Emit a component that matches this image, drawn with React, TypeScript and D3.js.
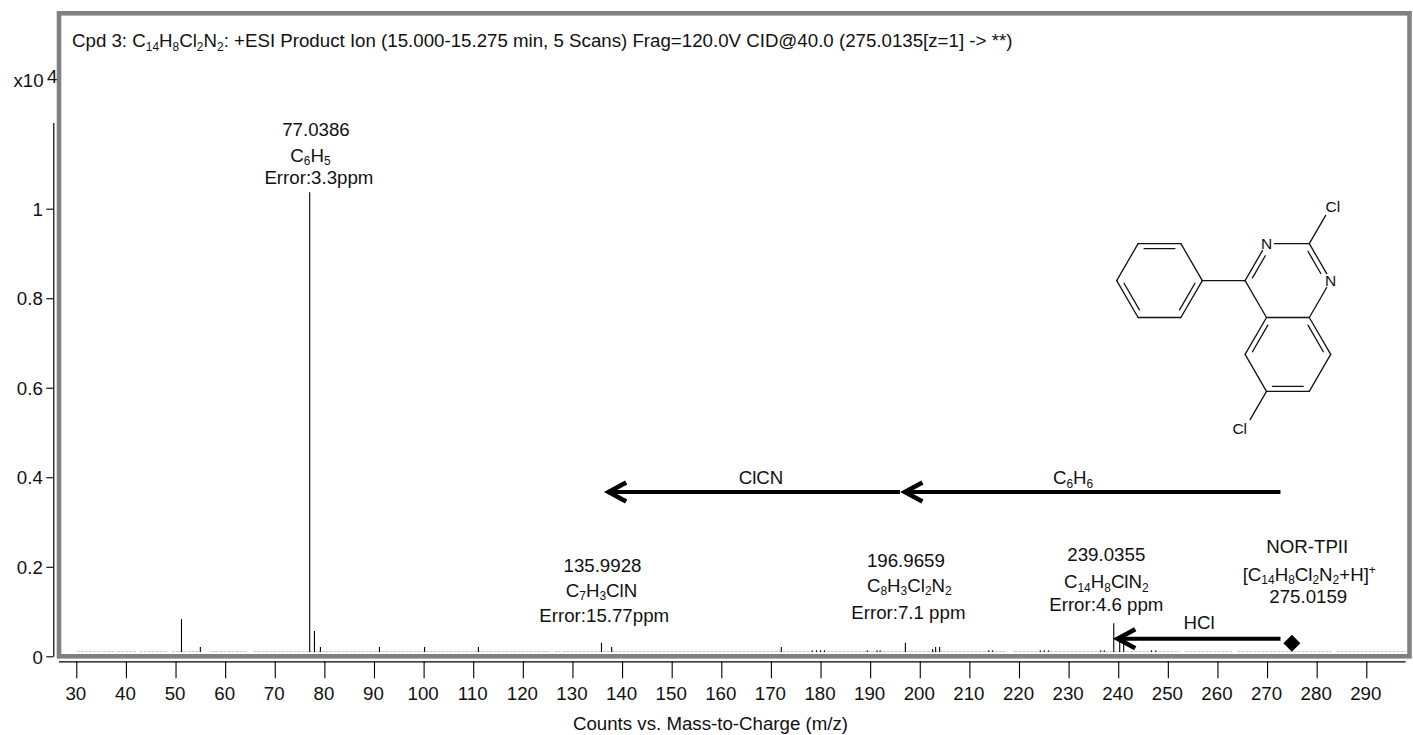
import { useEffect, useRef } from "react";
import * as d3 from "d3";

const WIDTH = 1413;
const HEIGHT = 735;
const FONT = "'Liberation Sans', Arial, sans-serif";

const xTicks = d3.range(30, 300, 10);
const yTicks = [0, 0.2, 0.4, 0.6, 0.8, 1];

// m/z and intensity (x10^4) of the sticks
const peakMz = [51.2, 55, 77.04, 78, 79.2, 91.1, 100.2, 111.05, 135.85, 137.9, 172.1, 197.1, 202.6, 203.2, 204, 239.1, 240.3, 241.1];
const peakInt = [0.083, 0.021, 1.037, 0.0565, 0.021, 0.021, 0.021, 0.021, 0.03, 0.021, 0.021, 0.03, 0.0165, 0.021, 0.021, 0.074, 0.036, 0.036];

// tiny peaks just above the noise floor
const tinyMz = [178.3, 179.2, 180, 180.8, 189.4, 191.4, 192, 213.9, 214.7, 224.3, 225.1, 226, 236.5, 237.2, 246.7, 247.6];

// noise floor stretches (m/z)
const noiseSpans = [
  [30.1, 34.8], [35.4, 37.6], [38.2, 42.2], [42.8, 48.3], [49.3, 54.9], [57.2, 64.4],
  [65.8, 125.5], [126.5, 127.5], [128.1, 217.2], [219, 252.5], [253.5, 263], [264, 283], [284, 298],
];
const NOISE_LEVEL = 0.0105;

// text notes: label, m/z anchor, intensity anchor
const noteText = [
  "77.0386", "C_{6}H_{5}", "Error:3.3ppm",
  "135.9928", "C_{7}H_{3}ClN", "Error:15.77ppm",
  "196.9659", "C_{8}H_{3}Cl_{2}N_{2}", "Error:7.1 ppm",
  "239.0355", "C_{14}H_{8}ClN_{2}", "Error:4.6 ppm",
  "NOR-TPII", "[C_{14}H_{8}Cl_{2}N_{2}+H]^{+}", "275.0159",
  "HCl", "ClCN", "C_{6}H_{6}",
];
const noteMz = [78.3, 77.2, 78.9, 136.05, 135.85, 136.4, 197.2, 197.9, 197.7, 237.6, 237.6, 237.6, 278.1, 278.5, 278.3, 256.3, 168, 230.9];
const noteInt = [1.162, 1.105, 1.056, 0.188, 0.133, 0.0766, 0.2, 0.144, 0.0833, 0.213, 0.152, 0.101, 0.231, 0.169, 0.118, 0.061, 0.385, 0.385];

// neutral loss arrows: from m/z, to m/z, intensity level
const lossArrows = [
  [272.7, 196.5, 0.367],
  [196, 136.8, 0.367],
  [272.7, 239.4, 0.039],
];
const precursor = [275, 0.029];

const title = "Cpd 3: C_{14}H_{8}Cl_{2}N_{2}: +ESI Product Ion (15.000-15.275 min, 5 Scans) Frag=120.0V CID@40.0 (275.0135[z=1] -> **)";

// structure on a hexagonal lattice: half-bond columns, rows
const atoms: Record<string, [number, number]> = {
  a1: [0, 2], a2: [1, 1], a3: [3, 1], a4: [4, 2], a5: [3, 3], a6: [1, 3],
  c4: [6, 2], n3: [7, 1], c2: [9, 1], n1: [10, 2], c8a: [9, 3], c4a: [7, 3],
  c5: [6, 4], c6: [7, 5], c7: [9, 5], c8: [10, 4], cl2: [10, 0], cl6: [6, 6],
};
const singleBonds = [
  ["a2", "a3"], ["a4", "a5"], ["a6", "a1"], ["a1", "a2"], ["a3", "a4"], ["a5", "a6"],
  ["a4", "c4"], ["c4", "c4a"], ["n3", "c2"], ["n1", "c8a"], ["c4", "n3"], ["c2", "n1"],
  ["c8a", "c4a"], ["c4a", "c5"], ["c5", "c6"], ["c6", "c7"], ["c7", "c8"], ["c8", "c8a"],
  ["c2", "cl2"], ["c6", "cl6"],
];
// second line of a double bond, and the ring centre it leans towards
const innerBonds: [string, string, [number, number]][] = [
  ["a2", "a3", [2, 2]], ["a4", "a5", [2, 2]], ["a6", "a1", [2, 2]],
  ["c4", "n3", [8, 2]], ["c2", "n1", [8, 2]],
  ["c4a", "c5", [8, 4]], ["c6", "c7", [8, 4]], ["c8", "c8a", [8, 4]],
];
// atom id, label, sideways nudge in lattice columns
const atomLabels: [string, string, number][] = [
  ["n3", "N", 0],
  ["n1", "N", 0],
  ["cl2", "Cl", 0.1],
  ["cl6", "Cl", -0.25],
];

function richText(
  sel: d3.Selection<SVGTextElement, unknown, null, undefined>,
  str: string,
  size: number
) {
  const tokens = str.match(/_\{[^}]*\}|\^\{[^}]*\}|[^_^]+/g) ?? [];
  let shift = 0;
  tokens.forEach((t) => {
    const isSub = t.startsWith("_{");
    const isSup = t.startsWith("^{");
    const target = isSub ? size * 0.19 : isSup ? -size * 0.33 : 0;
    sel
      .append("tspan")
      .attr("dy", target - shift)
      .attr("font-size", isSub || isSup ? size * 0.64 : size)
      .text(isSub || isSup ? t.slice(2, -1) : t);
    shift = target;
  });
}

export default function App() {
  const svgRef = useRef<SVGSVGElement>(null);

  useEffect(() => {
    if (!svgRef.current) return;
    const svg = d3.select(svgRef.current);
    svg.selectAll("*").remove();
    svg.attr("font-family", FONT);

    const x = d3.scaleLinear().domain([30, 290]).range([76.3, 1366.3]);
    const y = d3.scaleLinear().domain([0, 1]).range([656.3, 208.7]);
    const fs = 18.7;

    // Noise floor
    svg
      .append("g")
      .selectAll("line")
      .data(noiseSpans)
      .join("line")
      .attr("x1", (d) => x(d[0]))
      .attr("x2", (d) => x(d[1]))
      .attr("y1", y(NOISE_LEVEL))
      .attr("y2", y(NOISE_LEVEL))
      .attr("stroke", "#c4c4c4")
      .attr("stroke-width", 1)
      .attr("stroke-dasharray", "3,1");

    // Peaks
    svg
      .append("g")
      .selectAll("line")
      .data(peakMz)
      .join("line")
      .attr("x1", (d) => x(d))
      .attr("x2", (d) => x(d))
      .attr("y1", y(NOISE_LEVEL) + 0.5)
      .attr("y2", (_, i) => y(peakInt[i]))
      .attr("stroke", "#000")
      .attr("stroke-width", 1.1);

    svg
      .append("g")
      .selectAll("line")
      .data(tinyMz)
      .join("line")
      .attr("x1", (d) => x(d))
      .attr("x2", (d) => x(d))
      .attr("y1", y(NOISE_LEVEL) + 0.5)
      .attr("y2", y(NOISE_LEVEL) - 1.5)
      .attr("stroke", "#222")
      .attr("stroke-width", 1);

    // Frame
    svg
      .append("rect")
      .attr("x", 59)
      .attr("y", 13.3)
      .attr("width", 1350.5)
      .attr("height", 643)
      .attr("fill", "none")
      .attr("stroke", "#808080")
      .attr("stroke-width", 4.6);

    // X axis
    const xAxis = svg
      .append("g")
      .attr("transform", "translate(0,661.3)")
      .call(d3.axisBottom(x).tickValues(xTicks).tickSize(17).tickFormat(d3.format("d")));
    xAxis.select(".domain").attr("d", "M59,0.5H1405.7").attr("stroke", "#000").attr("stroke-width", 1.2);
    xAxis.selectAll(".tick line").attr("stroke", "#000").attr("stroke-width", 1.1);
    xAxis
      .selectAll(".tick text")
      .attr("x", -1)
      .attr("y", 38.5)
      .attr("dy", 0)
      .attr("font-size", fs)
      .attr("font-family", FONT)
      .attr("fill", "#111");

    svg
      .append("text")
      .attr("x", 710.5)
      .attr("y", 730)
      .attr("text-anchor", "middle")
      .attr("font-size", fs)
      .attr("fill", "#111")
      .text("Counts vs. Mass-to-Charge (m/z)");

    // Y axis
    const yAxis = svg
      .append("g")
      .attr("transform", "translate(53.3,0)")
      .call(d3.axisLeft(y).tickValues(yTicks).tickSize(7).tickFormat((d) => String(d)));
    yAxis.select(".domain").attr("d", "M0.5,123V656.8").attr("stroke", "#000").attr("stroke-width", 1.2);
    yAxis.selectAll(".tick line").attr("stroke", "#000").attr("stroke-width", 1.1);
    yAxis
      .selectAll(".tick text")
      .attr("x", -10.5)
      .attr("dy", "0.36em")
      .attr("font-size", fs)
      .attr("font-family", FONT)
      .attr("fill", "#111");

    svg.append("text").attr("x", 13.5).attr("y", 87.3).attr("font-size", fs).attr("fill", "#111").text("x10");
    svg.append("text").attr("x", 47).attr("y", 83).attr("font-size", fs).attr("fill", "#111").text("4");

    // Title
    const titleEl = svg.append("text").attr("x", 72).attr("y", 47.3).attr("fill", "#111");
    richText(titleEl as never, title, fs);

    // Notes
    noteText.forEach((t, i) => {
      const el = svg
        .append("text")
        .attr("x", x(noteMz[i]))
        .attr("y", y(noteInt[i]))
        .attr("text-anchor", "middle")
        .attr("fill", "#111");
      richText(el as never, t, fs);
    });

    // Loss arrows
    const arrowLine = d3.line();
    lossArrows.forEach(([from, to, level]) => {
      const tip = x(to);
      const ay = y(level);
      svg
        .append("line")
        .attr("x1", x(from))
        .attr("x2", tip + 2)
        .attr("y1", ay)
        .attr("y2", ay)
        .attr("stroke", "#000")
        .attr("stroke-width", 4);
      svg
        .append("path")
        .attr("d", arrowLine([[tip + 20, ay - 9.5], [tip + 2.5, ay], [tip + 20, ay + 9.5]]))
        .attr("fill", "none")
        .attr("stroke", "#000")
        .attr("stroke-width", 4.6);
    });

    // Precursor marker
    svg
      .append("path")
      .attr("d", d3.symbol(d3.symbolSquare, 144)())
      .attr("transform", `translate(${x(precursor[0])},${y(precursor[1])}) rotate(45)`)
      .attr("fill", "#000");

    // Structure
    const qx = d3.scaleLinear().domain([0, 10]).range([1116.7, 1330.7]);
    const qy = d3.scaleLinear().domain([0, 6]).range([206.7, 428.3]);
    const trim: Record<string, number> = { n3: 8, n1: 8, cl2: 10, cl6: 10 };
    const mol = svg.append("g").attr("stroke", "#111").attr("stroke-width", 1.3).attr("stroke-linecap", "round");

    singleBonds.forEach(([a, b]) => {
      const [ax, ay] = [qx(atoms[a][0]), qy(atoms[a][1])];
      const [bx, by] = [qx(atoms[b][0]), qy(atoms[b][1])];
      const len = Math.hypot(bx - ax, by - ay);
      const ta = (trim[a] ?? 0) / len;
      const tb = (trim[b] ?? 0) / len;
      mol
        .append("line")
        .attr("x1", ax + (bx - ax) * ta)
        .attr("y1", ay + (by - ay) * ta)
        .attr("x2", bx - (bx - ax) * tb)
        .attr("y2", by - (by - ay) * tb);
    });

    innerBonds.forEach(([a, b, centre]) => {
      const [ax, ay] = [qx(atoms[a][0]), qy(atoms[a][1])];
      const [bx, by] = [qx(atoms[b][0]), qy(atoms[b][1])];
      const [cx, cy] = [qx(centre[0]), qy(centre[1])];
      const mx = (ax + bx) / 2;
      const my = (ay + by) / 2;
      const d = Math.hypot(cx - mx, cy - my);
      const ox = ((cx - mx) / d) * 5;
      const oy = ((cy - my) / d) * 5;
      const s = 0.14;
      const sa = trim[a] ? 0.26 : s;
      const sb = trim[b] ? 0.26 : s;
      mol
        .append("line")
        .attr("x1", ax + (bx - ax) * sa + ox)
        .attr("y1", ay + (by - ay) * sa + oy)
        .attr("x2", bx - (bx - ax) * sb + ox)
        .attr("y2", by - (by - ay) * sb + oy);
    });

    atomLabels.forEach(([id, label, nudge]) => {
      svg
        .append("text")
        .attr("x", qx(atoms[id][0] + nudge))
        .attr("y", qy(atoms[id][1]) + 5.5)
        .attr("text-anchor", "middle")
        .attr("font-size", 15.5)
        .attr("fill", "#111")
        .text(label);
    });
  }, []);

  return (
    <svg
      ref={svgRef}
      width={WIDTH}
      height={HEIGHT}
      style={{ position: "absolute", left: 0, top: 0, display: "block", background: "#fff" }}
    />
  );
}
